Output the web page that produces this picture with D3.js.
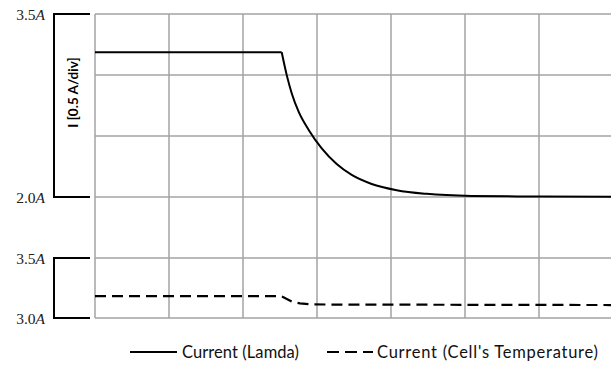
<!DOCTYPE html>
<html>
<head>
<meta charset="utf-8">
<script src="https://cdn.jsdelivr.net/npm/d3@7"></script>
<style>
  html, body { margin: 0; padding: 0; background: #fff; }
  svg { display: block; }
  .endLabel { font-family: "Liberation Serif", "Times New Roman", serif; }
  .sans { font-family: "Lato", "Open Sans", sans-serif; }
</style>
</head>
<body>
<svg id="chart" width="611" height="367"></svg>
<script>
// Time axis in divisions (no labels on the time axis)
const timeDomain = [0, 7];

// Upper trace: current following the lambda controller
const lamdaTime    = [0, 2.523, 2.591, 2.658, 2.753, 2.888, 3.064, 3.266, 3.469, 3.739, 4.077, 4.482, 5.091, 6.01, 7.0];
const lamdaCurrent = [3.186, 3.186, 2.999, 2.851, 2.698, 2.550, 2.398, 2.270, 2.181, 2.107, 2.056, 2.026, 2.009, 2.004, 2.002];

// Lower trace: current following the cell's temperature
const tempTime    = [0, 2.51, 2.54, 2.66, 2.77, 2.93, 3.2, 7.0];
const tempCurrent = [3.183, 3.183, 3.175, 3.136, 3.122, 3.114, 3.112, 3.108];

// Vertical ranges of the two panels and their end labels
const upperDomain = [2.0, 3.5];
const lowerDomain = [3.0, 3.5];
const upperLabels = ["3.5", "2.0"];
const lowerLabels = ["3.5", "3.0"];
const axisTitle = "I [0.5 A/div]";
const legendNames = ["Current (Lamda)", "Current (Cell's Temperature)"];

const svg = d3.select("#chart");

const x = d3.scaleLinear().domain(timeDomain).range([95, 613]);
const yUp = d3.scaleLinear().domain(upperDomain).range([197, 14]);
const yLo = d3.scaleLinear().domain(lowerDomain).range([318, 258]);

const gridColor = "#a3a3a3";

// Grid: horizontal lines at every 0.5 A division of both panels
const hLines = [
  ...d3.range(upperDomain[0], upperDomain[1] + 0.01, 0.5).map(v => yUp(v)),
  ...d3.range(lowerDomain[0], lowerDomain[1] + 0.01, 0.5).map(v => yLo(v))
];
const grid = svg.append("g").attr("class", "grid")
  .attr("stroke", gridColor).attr("stroke-width", 1.5);
grid.selectAll("line.h").data(hLines).join("line")
  .attr("class", "h")
  .attr("x1", x(0)).attr("x2", 611)
  .attr("y1", d => d).attr("y2", d => d);
grid.selectAll("line.v").data(d3.range(0, 7)).join("line")
  .attr("class", "v")
  .attr("x1", d => x(d)).attr("x2", d => x(d))
  .attr("y1", yUp(upperDomain[1])).attr("y2", yLo(lowerDomain[0]));

// Bracket axes with end labels
function bracket(scale, domain, labels) {
  const top = scale(domain[1]), bot = scale(domain[0]);
  svg.append("path")
    .attr("d", `M90,${top}H54V${bot}H90`)
    .attr("fill", "none").attr("stroke", "#000").attr("stroke-width", 2);
  [top, bot].forEach((yy, i) => {
    const t = svg.append("text")
      .attr("class", "endLabel")
      .attr("x", 45).attr("y", yy).attr("dy", "0.36em")
      .attr("text-anchor", "end")
      .attr("font-size", 15.5).attr("fill", "#222");
    t.append("tspan").text(labels[i]);
    t.append("tspan").attr("font-style", "italic").text("A");
  });
}
bracket(yUp, upperDomain, upperLabels);
bracket(yLo, lowerDomain, lowerLabels);

// Rotated axis title
svg.append("text")
  .attr("class", "sans")
  .attr("transform", `translate(73,${(yUp(3.5) + yUp(2.0)) / 2 - 13}) rotate(-90)`)
  .attr("dy", "0.35em")
  .attr("text-anchor", "middle")
  .attr("font-weight", "bold")
  .attr("font-size", 13.5)
  .text(axisTitle);

// Traces
const lamdaData = lamdaTime.map((t, i) => [t, lamdaCurrent[i]]);
const tempData = tempTime.map((t, i) => [t, tempCurrent[i]]);

svg.append("defs").append("clipPath").attr("id", "plotClip")
  .append("rect").attr("x", 95).attr("y", 0).attr("width", 516).attr("height", 367);

const plot = svg.append("g").attr("clip-path", "url(#plotClip)");

// flat part then the decay, so the corner at the step stays sharp
const kink = 1;
plot.append("path")
  .datum(lamdaData.slice(0, kink + 1))
  .attr("d", d3.line().x(d => x(d[0])).y(d => yUp(d[1])))
  .attr("fill", "none").attr("stroke", "#000").attr("stroke-width", 2);
plot.append("path")
  .datum(lamdaData.slice(kink))
  .attr("d", d3.line().x(d => x(d[0])).y(d => yUp(d[1])).curve(d3.curveMonotoneX))
  .attr("fill", "none").attr("stroke", "#000").attr("stroke-width", 2);

plot.append("path")
  .datum(tempData)
  .attr("d", d3.line().x(d => x(d[0])).y(d => yLo(d[1])))
  .attr("fill", "none").attr("stroke", "#000").attr("stroke-width", 2.2)
  .attr("stroke-dasharray", "11,6");

// Legend
const legend = svg.append("g")
  .attr("class", "sans")
  .attr("font-size", 16.5);
const legendItems = [
  { name: legendNames[0], x0: 130, x1: 177, tx: 182, w: 117, dash: null },
  { name: legendNames[1], x0: 327, x1: 373, tx: 377, w: 221, dash: "12,6" }
];
legendItems.forEach(it => {
  legend.append("line")
    .attr("x1", it.x0).attr("x2", it.x1).attr("y1", 352).attr("y2", 352)
    .attr("stroke", "#000").attr("stroke-width", 1.8)
    .attr("stroke-dasharray", it.dash);
  legend.append("text")
    .attr("x", it.tx).attr("y", 352).attr("dy", "0.35em")
    .attr("fill", "#111")
    .attr("textLength", it.w).attr("lengthAdjust", "spacing")
    .text(it.name);
});
</script>
</body>
</html>
